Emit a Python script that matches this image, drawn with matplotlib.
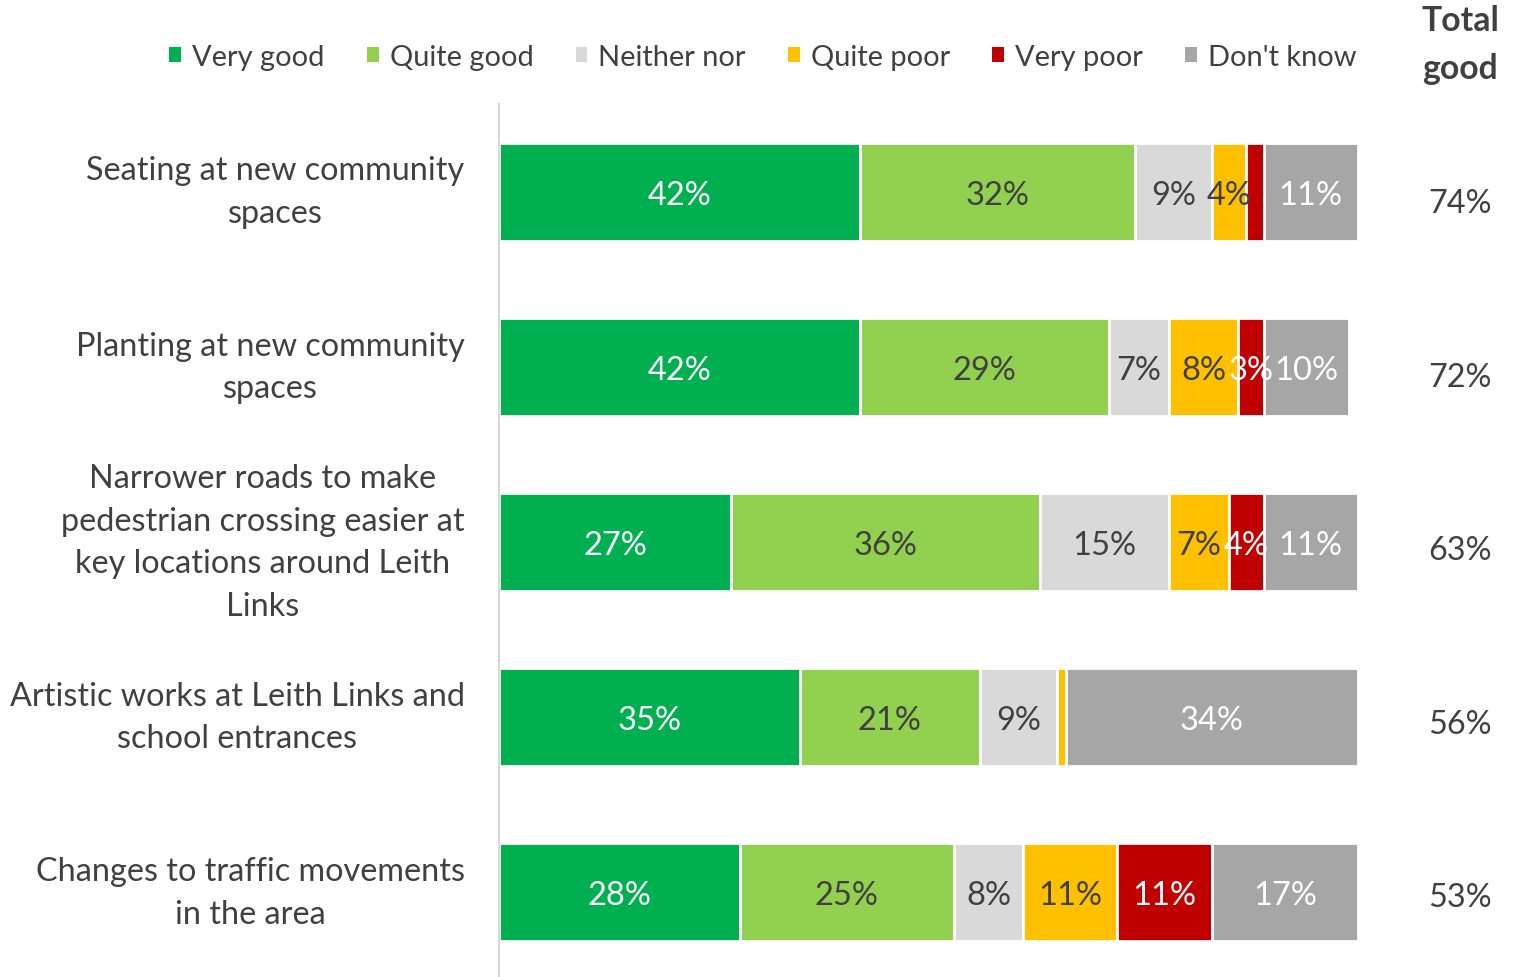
import matplotlib
matplotlib.use("Agg")
import matplotlib.pyplot as plt
from matplotlib.patches import Patch
import numpy as np

plt.rcParams["font.family"] = ["Lato", "DejaVu Sans"]

categories = [
    "Seating at new community\nspaces",
    "Planting at new community\nspaces",
    "Narrower roads to make\npedestrian crossing easier at\nkey locations around Leith\nLinks",
    "Artistic works at Leith Links and\nschool entrances",
    "Changes to traffic movements\nin the area",
]
series_names = ["Very good", "Quite good", "Neither nor", "Quite poor", "Very poor", "Don't know"]
very_good = [42, 42, 27, 35, 28]
quite_good = [32, 29, 36, 21, 25]
neither_nor = [9, 7, 15, 9, 8]
quite_poor = [4, 8, 7, 1, 11]
very_poor = [2, 3, 4, 0, 11]
dont_know = [11, 10, 11, 34, 17]
total_good = [74, 72, 63, 56, 53]

colors = ["#00B050", "#92D050", "#D9D9D9", "#FFC000", "#C00000", "#A6A6A6"]
label_colors = ["white", "#404040", "#404040", "#404040", "white", "white"]
TEXT = "#404040"

series = [very_good, quite_good, neither_nor, quite_poor, very_poor, dont_know]

fig = plt.figure(figsize=(15.19, 9.78), dpi=100)
ax = fig.add_axes([499 / 1519, -3 / 978, 859 / 1519, 876 / 978])

y = np.arange(len(categories))
left = np.zeros(len(categories))
for vals, col, lcol in zip(series, colors, label_colors):
    vals = np.array(vals, dtype=float)
    ax.barh(y, vals, left=left, height=0.56, color=col, edgecolor="white", linewidth=2)
    for yi, l, v in zip(y, left, vals):
        if v >= 3:
            ax.text(l + v / 2, yi, f"{int(v)}%", ha="center", va="center_baseline",
                    fontsize=23.5, color=lcol)
    left += vals

ax.set_xlim(0, 100)
ax.set_ylim(4.5, -0.5)
ax.set_xticks([])
ax.set_yticks([])
for s in ["top", "right", "bottom"]:
    ax.spines[s].set_visible(False)
ax.spines["left"].set_color("#D9D9D9")
ax.spines["left"].set_linewidth(1.5)

# category labels, centred multi-line blocks to the left of the bars
for yi, cat in zip(y, categories):
    ax.text(-4.0, yi, cat, ha="right", va="center", multialignment="center",
            fontsize=23.3, color=TEXT, linespacing=1.52)

# "Total good" column
for yi, tg in zip(y, total_good):
    ax.text(111.9, yi + 0.05 - 0.01 * yi, f"{tg}%", ha="center", va="center_baseline",
            fontsize=23.3, color=TEXT)

fig.text(1460 / 1519, 1 - 45 / 978, "Total\ngood", ha="center", va="center",
         fontsize=24.3, fontweight="bold", color=TEXT, linespacing=1.62)

handles = [Patch(facecolor=c, edgecolor="none") for c in colors]
fig.legend(handles, series_names, loc="center", bbox_to_anchor=(763 / 1519, 1 - 58 / 978),
           ncol=6, frameon=False, fontsize=20.9, labelcolor=TEXT,
           handlelength=0.41, handleheight=0.41, handletextpad=0.38,
           columnspacing=1.45, borderpad=0)

fig.savefig("out.png", dpi=100, facecolor="white")
